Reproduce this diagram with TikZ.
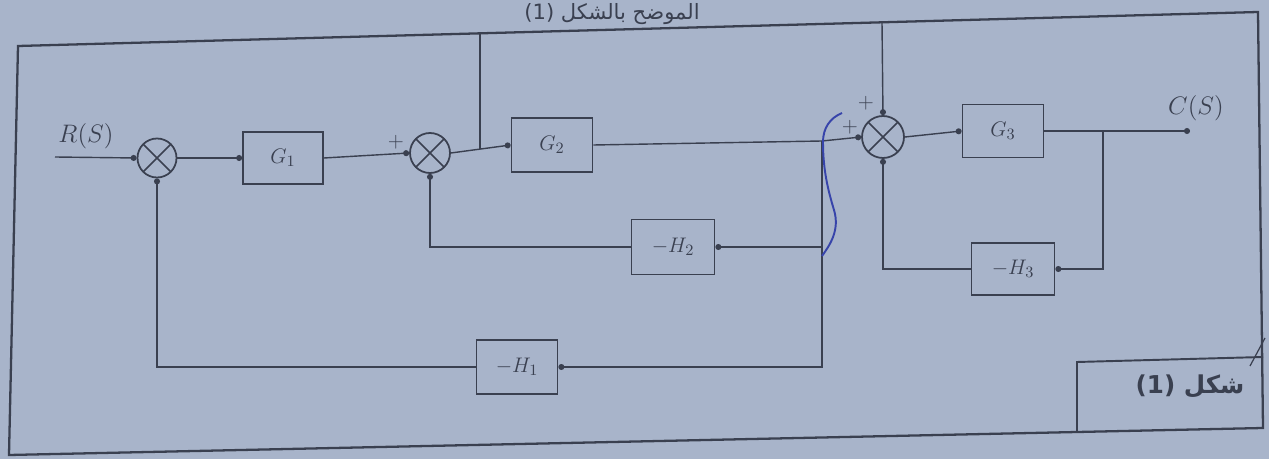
\documentclass[tikz,border=0pt]{standalone}
\usepackage{fontspec}
\newfontfamily\arabicfont[Script=Arabic]{DejaVu Sans}
\TeXXeTstate=1
\usetikzlibrary{arrows.meta}
\definecolor{paper}{RGB}{168,180,202}
\definecolor{ink}{RGB}{58,64,80}
\definecolor{pen}{RGB}{55,68,170}
\begin{document}
\begin{tikzpicture}[x=0.02cm,y=-0.02cm,
  blk/.style={draw=ink, line width=1pt, minimum width=1.62cm, minimum height=1.06cm,
    inner sep=0pt, text=ink, font=\fontsize{13}{15}\selectfont},
  sumj/.style={circle, draw=ink, line width=1pt, minimum size=0.8cm, inner sep=0pt,
    path picture={\draw[ink,line width=0.9pt]
      (path picture bounding box.north west)--(path picture bounding box.south east)
      (path picture bounding box.north east)--(path picture bounding box.south west);}},
  sig/.style={draw=ink, line width=0.8pt, -{Circle[length=3.4pt]}},
  wire/.style={draw=ink, line width=0.8pt},
  lab/.style={text=ink, font=\fontsize{14}{16}\selectfont, inner sep=0pt},
  pls/.style={text=ink, font=\fontsize{13}{14}\selectfont\bfseries, inner sep=0pt},
]
\fill[paper] (0,0) rectangle (1269,459);
\useasboundingbox (0,0) rectangle (1269,459);

% title line at top
\node[anchor=base east, text=ink, inner sep=0pt,
  font=\arabicfont\fontsize{12}{14}\selectfont] (ttl) at (700,20)
  {\beginR الموضح بالشكل \beginL(1)\endL\endR};

% frame
\draw[ink, line width=1.3pt] (18,46) -- (1258,12) -- (1263,428) -- (9,455) -- cycle;
\coordinate (bx1) at (1077,432);
\coordinate (bx2) at (1077,362);
\coordinate (bx3) at (1263,357);
\draw[ink, line width=1.1pt] (bx1) -- (bx2) -- (bx3);
\node[text=ink, inner sep=0pt, font=\arabicfont\fontsize{14}{16}\selectfont\bfseries]
  (fig) at (1190,386) {\beginR شكل \beginL(1)\endL\endR};
\draw[ink, line width=0.7pt] (1250,366) -- (1265,338);

% blocks
\node[sumj, minimum size=0.78cm] (s1) at (157,158) {};
\node[blk, minimum width=1.6cm, minimum height=1.04cm] (g1) at (283,158) {$G_1$};
\node[sumj] (s2) at (430,153) {};
\node[blk, minimum height=1.08cm] (g2) at (552,145) {$G_2$};
\node[sumj, minimum size=0.84cm] (s3) at (883,137) {};
\node[blk] (g3) at (1003,131) {$G_3$};
\node[blk, minimum width=1.66cm, minimum height=1.1cm] (h2) at (673,247) {$-H_2$};
\node[blk, minimum height=1.08cm] (h1) at (517,367) {$-H_1$};
\node[blk, minimum width=1.66cm, minimum height=1.04cm] (h3) at (1013,269) {$-H_3$};

% labels
\node[lab] (rlab) at (86,136) {$R(S)$};
\node[lab] (clab) at (1196,108) {$C(S)$};
\node[pls] (p2) at (396,142) {$+$};
\node[pls] (p3a) at (866,103) {$+$};
\node[pls] (p3b) at (850,127) {$+$};

% forward path
\coordinate (rin) at (55,157);
\draw[sig] (rin) -- (s1.west);
\draw[sig] (s1.east) -- (g1.west);
\draw[sig] (g1.east) -- (s2.west);
\draw[sig] (s2.east) -- (g2.west);
\coordinate (b1) at (822,141);
\draw[wire] (g2.east) -- (b1);
\draw[sig] (b1) -- (s3.west);
\draw[sig] (s3.east) -- (g3.west);
\coordinate (b3) at (1103,131);
\coordinate (cout) at (1190,131);
\draw[wire] (g3.east) -- (b3);
\draw[sig] (b3) -- (cout);

% lines from the top
\coordinate (t2) at (480,33);
\coordinate (j2) at (480,149);
\draw[wire] (t2) -- (j2);
\coordinate (t3) at (882,22);
\draw[sig] (t3) -- (s3.north);

% feedback paths
\draw[sig] (b1) |- (h2.east);
\draw[sig] (b1) |- (h1.east);
\draw[sig] (h2.west) -| (s2.south);
\draw[sig] (h1.west) -| (s1.south);
\draw[sig] (b3) |- (h3.east);
\draw[sig] (h3.west) -| (s3.south);

% blue pen mark
\draw[pen, line width=1.1pt] (842,113) .. controls (830,118) and (823,128) .. (823,142)
  .. controls (823,170) and (828,190) .. (834,210)
  .. controls (840,230) and (830,245) .. (822,256);
\end{tikzpicture}
\end{document}
